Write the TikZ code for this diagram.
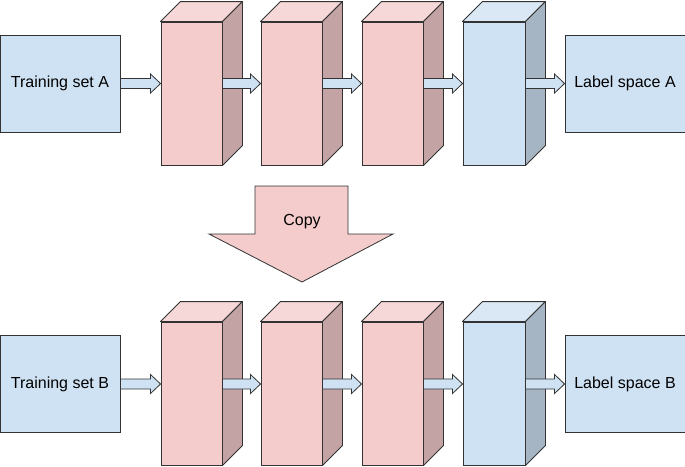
\documentclass[tikz,border=0pt]{standalone}
\usepackage{fontspec}
\setmainfont{Liberation Sans}
\usepackage{tikz}
\usetikzlibrary{calc}
\definecolor{pinkfront}{HTML}{F4CCCC}
\definecolor{pinktop}{HTML}{F7D8D8}
\definecolor{pinkside}{HTML}{C3A3A3}
\definecolor{bluefront}{HTML}{CFE2F3}
\definecolor{bluetop}{HTML}{DAE8F5}
\definecolor{blueside}{HTML}{A6B5C3}
\definecolor{edge}{HTML}{333333}
\tikzset{
  databox/.style={draw=edge,line width=0.9pt,fill=bluefront,minimum width=120pt,minimum height=97pt,inner sep=0pt,font=\fontsize{16}{19}\selectfont},
  layer/.style={draw=edge,line width=0.9pt,minimum width=61pt,minimum height=143pt,inner sep=0pt},
  pinklayer/.style={layer,fill=pinkfront},
  bluelayer/.style={layer,fill=bluefront,minimum width=62pt},
  pinktop/.style={draw=edge,line width=0.9pt,fill=pinktop,line join=round},
  pinkside/.style={draw=edge,line width=0.9pt,fill=pinkside,line join=round},
  bluetop/.style={draw=edge,line width=0.9pt,fill=bluetop,line join=round},
  blueside/.style={draw=edge,line width=0.9pt,fill=blueside,line join=round},
  flowarrow/.style={draw=edge,line width=0.8pt,fill=bluefront,line join=miter},
}
% top and side faces of a layer block
\def\layerfaces#1#2{%
  \draw[#2top] (#1.north west) -- ++(20,-20) -- ($(#1.north east)+(20,-20)$) -- (#1.north east) -- cycle;
  \draw[#2side] (#1.north east) -- ++(20,-20) -- ($(#1.south east)+(20,-20)$) -- (#1.south east) -- cycle;}
% fat arrow between two nodes, at the height of #3
\def\fatarrow#1#2#3{%
  \coordinate (s) at (#1.east |- #3);
  \coordinate (t) at (#2.west |- #3);
  \draw[flowarrow] ($(s)+(0,-5)$) -- ($(t)+(-10,-5)$) -- ($(t)+(-10,-9.5)$) -- (t)
     -- ($(t)+(-10,9.5)$) -- ($(t)+(-10,5)$) -- ($(s)+(0,5)$) -- cycle;}

\begin{document}
\begin{tikzpicture}[x=1pt,y=-1pt]
\useasboundingbox (0,0) rectangle (685,466);
% row A
\node[databox] (tsA) at (60,83.5) {Training set A};
\node[databox] (lsA) at (625,83.5) {Label space A};
\node[pinklayer] (a1) at (191.5,93.5) {};
\node[pinklayer] (a2) at (291.5,93.5) {};
\node[pinklayer] (a3) at (392.5,93.5) {};
\node[bluelayer] (a4) at (494,93.5) {};
\layerfaces{a1}{pink}
\layerfaces{a2}{pink}
\layerfaces{a3}{pink}
\layerfaces{a4}{blue}
\fatarrow{tsA}{a1}{tsA}
\fatarrow{a1}{a2}{tsA}
\fatarrow{a2}{a3}{tsA}
\fatarrow{a3}{a4}{tsA}
\fatarrow{a4}{lsA}{tsA}
% copy
\draw[draw=edge,line width=0.8pt,fill=pinkfront,line join=miter]
  (255,186) -- (348,186) -- (348,234) -- (393,234) -- (302,282) -- (209,234) -- (255,234) -- cycle;
\node[font=\fontsize{16}{19}\selectfont] (copy) at (302,222) {Copy};
% row B
\node[databox] (tsB) at (60,384) {Training set B};
\node[databox] (lsB) at (625,384) {Label space B};
\node[pinklayer] (b1) at (191.5,393.5) {};
\node[pinklayer] (b2) at (291.5,393.5) {};
\node[pinklayer] (b3) at (392.5,393.5) {};
\node[bluelayer] (b4) at (494,393.5) {};
\layerfaces{b1}{pink}
\layerfaces{b2}{pink}
\layerfaces{b3}{pink}
\layerfaces{b4}{blue}
\fatarrow{tsB}{b1}{tsB}
\fatarrow{b1}{b2}{tsB}
\fatarrow{b2}{b3}{tsB}
\fatarrow{b3}{b4}{tsB}
\fatarrow{b4}{lsB}{tsB}
\end{tikzpicture}
\end{document}
